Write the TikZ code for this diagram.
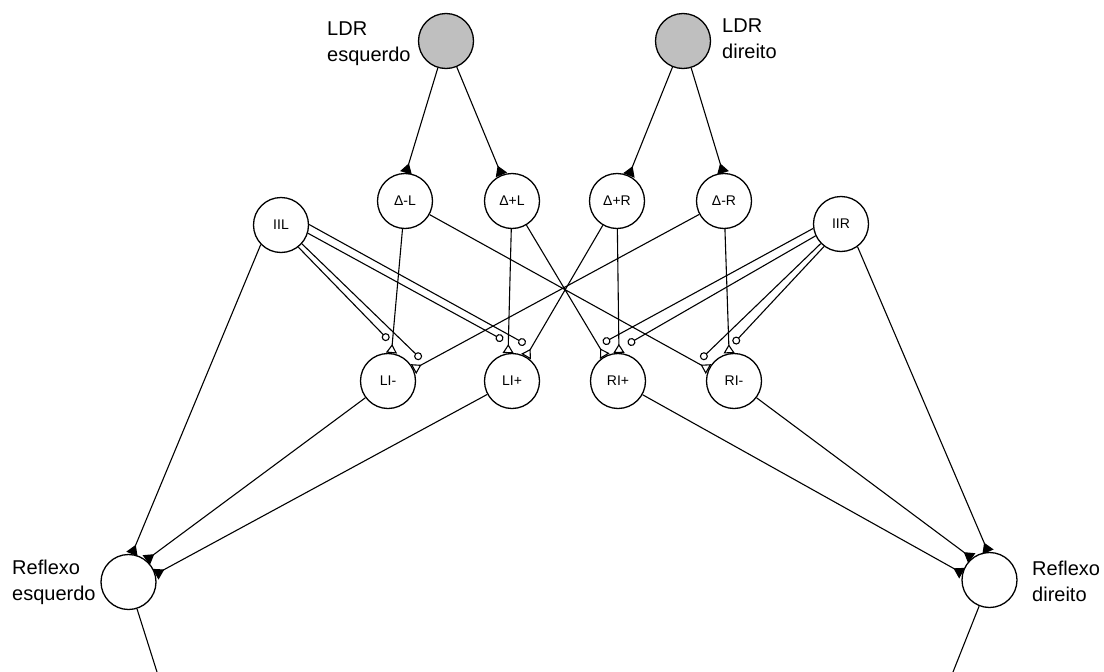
\documentclass[tikz,border=0pt]{standalone}
\usepackage{fontspec}
\setmainfont{Liberation Sans}
\usetikzlibrary{arrows.meta}
\begin{document}
\begin{tikzpicture}[x=1pt,y=-1pt,
  neuron/.style={circle, draw, line width=1.3pt, minimum size=55pt, inner sep=0pt,
    font=\fontsize{14}{14}\selectfont},
  ldr/.style={neuron, fill=black!25},
  lab/.style={font=\fontsize{20}{26}\selectfont, align=left, inner sep=0pt, anchor=west},
  conn/.style={line width=1.1pt},
  exc/.style={conn, -{Triangle[reversed, length=10pt, width=12pt]}},
  exco/.style={conn, -{Triangle[reversed, open, length=9pt, width=11pt]}},
  inh/.style={conn, -{Circle[open, length=8pt]}}]
\useasboundingbox (0,0) rectangle (1104,672);
% nodes
\node[ldr] (LDRL) at (446,41) {};
\node[ldr] (LDRR) at (683,41) {};
\node[neuron] (DmL) at (405,201) {Δ-L};
\node[neuron] (DpL) at (512,201) {Δ+L};
\node[neuron] (DpR) at (617,201) {Δ+R};
\node[neuron] (DmR) at (724,201) {Δ-R};
\node[neuron] (IIL) at (281,225) {IIL};
\node[neuron] (IIR) at (841,224) {IIR};
\node[neuron] (LIm) at (388,381) {LI-};
\node[neuron] (LIp) at (512,381) {LI+};
\node[neuron] (RIp) at (618,381) {RI+};
\node[neuron] (RIm) at (734,381) {RI-};
\node[neuron] (RefL) at (128.5,582) {};
\node[neuron] (RefR) at (989.5,580) {};
% labels
\node[lab] (tLDRL) at (327,44) {LDR\\esquerdo};
\node[lab] (tLDRR) at (722,39) {LDR\\direito};
\node[lab] (tRefL) at (12,582) {Reflexo\\esquerdo};
\node[lab] (tRefR) at (1032,581) {Reflexo\\direito};
% inhibitory end points
\coordinate (iLIm1) at (388.5,340);
\coordinate (iLIm2) at (421,359);
\coordinate (iLIp1) at (503,340);
\coordinate (iLIp2) at (525.5,344);
\coordinate (iRIp1) at (603,343);
\coordinate (iRIp2) at (628,344);
\coordinate (iRIm1) at (701,359);
\coordinate (iRIm2) at (733.5,343.5);
\coordinate (outL) at (157,672);
\coordinate (outR) at (953,672);
% LDR -> Delta
\draw[exc] (LDRL) -- (DmL.88);
\draw[exc] (LDRL) -- (DpL.112);
\draw[exc] (LDRR) -- (DpR.65);
\draw[exc] (LDRR) -- (DmR.92);
% Delta -> I
\draw[exco] (DmL) -- (LIm.83);
\draw[exco] (DmL) -- (RIm.155);
\draw[exco] (DpL) -- (LIp.98);
\draw[exco] (DpL) -- (RIp.118);
\draw[exco] (DpR) -- (LIp.60);
\draw[exco] (DpR) -- (RIp.88);
\draw[exco] (DmR) -- (LIm.25);
\draw[exco] (DmR) -- (RIm.100);
% II -> presynaptic
\draw[inh] (IIL.1) -- (iLIp2);
\draw[inh] (IIL.-17) -- (iLIp1);
\draw[inh] (IIL.-42) -- (iLIm2);
\draw[inh] (IIL.-52) -- (iLIm1);
\draw[inh] (IIR.189) -- (iRIp1);
\draw[inh] (IIR.205) -- (iRIp2);
\draw[inh] (IIR.224) -- (iRIm1);
\draw[inh] (IIR.233) -- (iRIm2);
% -> Reflexo
\draw[exc] (IIL.224) -- (RefL.83);
\draw[exc] (LIm) -- (RefL.51);
\draw[exc] (LIp) -- (RefL.16);
\draw[exc] (IIR.-54) -- (RefR.93);
\draw[exc] (RIm) -- (RefR.129);
\draw[exc] (RIp) -- (RefR.166);
% outputs
\draw[conn] (RefL) -- (outL);
\draw[conn] (RefR) -- (outR);
\end{tikzpicture}
\end{document}
